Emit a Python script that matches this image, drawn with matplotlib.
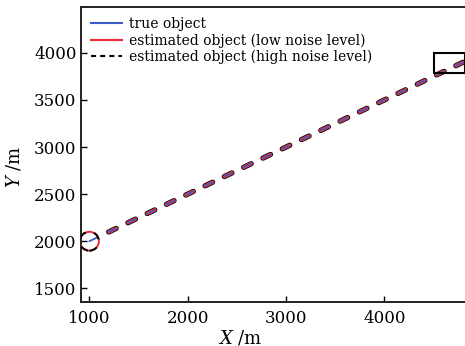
import numpy as np
import matplotlib
matplotlib.use('Agg')
import matplotlib.pyplot as plt
from matplotlib.patches import Ellipse, Rectangle
from matplotlib.lines import Line2D

plt.rcParams['font.family'] = 'DejaVu Serif'
plt.rcParams['mathtext.fontset'] = 'dejavuserif'
plt.rcParams['lines.scale_dashes'] = False

# trajectory endpoints (m)
true_x = [1000, 4800]
true_y = [2000, 3900]
low_x = [1196, 4800]
low_y = [2098, 3900]
high_x = [1196, 4800]
high_y = [2098, 3900]

x_ticks = [1000, 2000, 3000, 4000]
y_ticks = [1500, 2000, 2500, 3000, 3500, 4000]

fig = plt.figure(figsize=(4.65, 3.46), dpi=100)
ax = fig.add_axes([80.7/465, 44.3/346, 1 - 80.7/465, 295/346])

dash = (0, (6.0, 9.4))
ax.plot(high_x, high_y, color='black', lw=3.8, linestyle=dash,
        dash_capstyle='round', zorder=2)
ax.plot(low_x, low_y, color='#ee2d3a', lw=2.7, linestyle=dash,
        dash_capstyle='round', zorder=3)
ax.plot(true_x, true_y, color='#3a5cc6', lw=1.3, linestyle=dash,
        dash_capstyle='round', zorder=4)

# marked start point and end region
ax.add_patch(Ellipse((1000, 2000), 194, 200, fill=False, ec='#ee2d3a', lw=1.4, zorder=5))
ax.add_patch(Ellipse((1000, 2000), 194, 200, fill=False, ec='black', lw=1.4,
                     linestyle=(0, (6, 6)), zorder=6))
ax.add_patch(Rectangle((4500, 3790), 320, 210, fill=False, ec='black', lw=1.5, zorder=6))

ax.set_xlim(912, 4820)
ax.set_ylim(1358, 4490)
ax.set_xticks(x_ticks)
ax.set_yticks(y_ticks)
ax.tick_params(direction='in', length=4, width=1, labelsize=12)
ax.tick_params(axis='x', pad=6)
ax.tick_params(axis='y', pad=3)
ax.spines['right'].set_visible(False)
for s in ['left', 'bottom', 'top']:
    ax.spines[s].set_linewidth(1.4)
    ax.spines[s].set_color('#222222')

ax.set_xlabel(r'$X$ /m', fontsize=13)
ax.set_ylabel(r'$Y$ /m', fontsize=13)
ax.xaxis.set_label_coords(0.415, -0.090)
ax.yaxis.set_label_coords(-0.150, 0.457)

handles = [Line2D([], [], color='#3a5cc6', lw=1.5),
           Line2D([], [], color='#ee2d3a', lw=1.5),
           Line2D([], [], color='black', lw=1.5, linestyle=(0, (3.6, 3.0)))]
labels = ['true object', 'estimated object (low noise level)',
          'estimated object (high noise level)']
ax.legend(handles, labels, loc='upper left', frameon=False, fontsize=10,
          handlelength=2.2, handletextpad=0.5, labelspacing=0.15,
          borderaxespad=0.45, borderpad=0.3)

fig.savefig('out.png', dpi=100)
